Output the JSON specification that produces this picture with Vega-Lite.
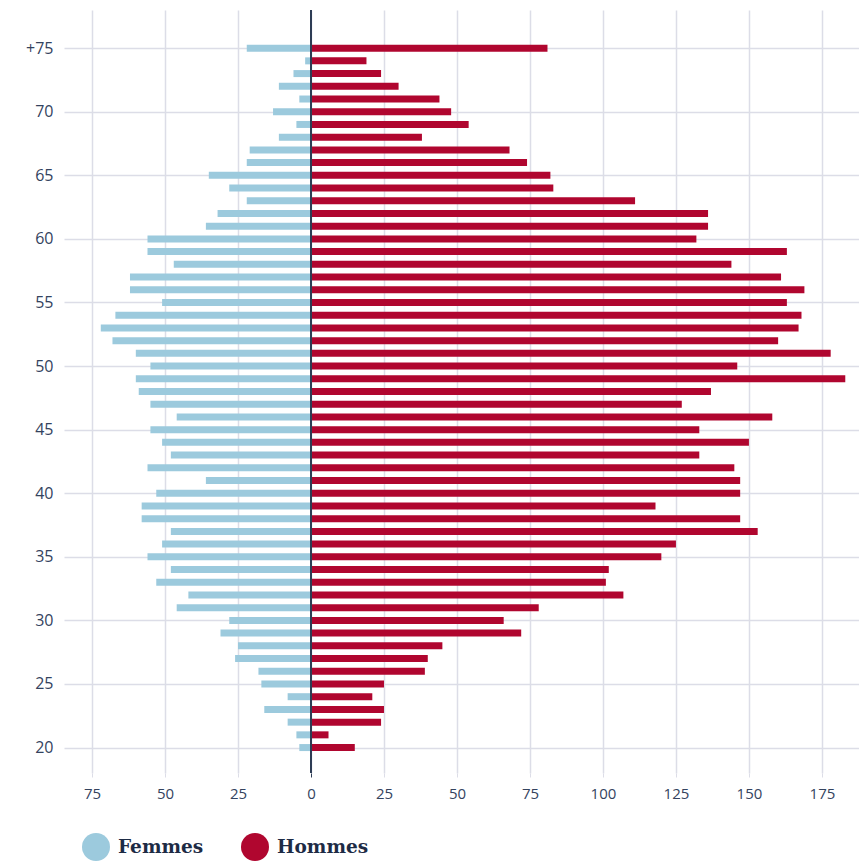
{
  "$schema": "https://vega.github.io/schema/vega-lite/v6.json",
  "width": 795,
  "height": 763,
  "autosize": {"type": "none"},
  "padding": {"left": 64, "top": 10, "right": 0, "bottom": 88},
  "background": "white",
  "config": {"view": {"stroke": null}},
  "data": {"values": [
    {"age":75,"sexe":"Femmes","value":-22},{"age":75,"sexe":"Hommes","value":81},
    {"age":74,"sexe":"Femmes","value":-2},{"age":74,"sexe":"Hommes","value":19},
    {"age":73,"sexe":"Femmes","value":-6},{"age":73,"sexe":"Hommes","value":24},
    {"age":72,"sexe":"Femmes","value":-11},{"age":72,"sexe":"Hommes","value":30},
    {"age":71,"sexe":"Femmes","value":-4},{"age":71,"sexe":"Hommes","value":44},
    {"age":70,"sexe":"Femmes","value":-13},{"age":70,"sexe":"Hommes","value":48},
    {"age":69,"sexe":"Femmes","value":-5},{"age":69,"sexe":"Hommes","value":54},
    {"age":68,"sexe":"Femmes","value":-11},{"age":68,"sexe":"Hommes","value":38},
    {"age":67,"sexe":"Femmes","value":-21},{"age":67,"sexe":"Hommes","value":68},
    {"age":66,"sexe":"Femmes","value":-22},{"age":66,"sexe":"Hommes","value":74},
    {"age":65,"sexe":"Femmes","value":-35},{"age":65,"sexe":"Hommes","value":82},
    {"age":64,"sexe":"Femmes","value":-28},{"age":64,"sexe":"Hommes","value":83},
    {"age":63,"sexe":"Femmes","value":-22},{"age":63,"sexe":"Hommes","value":111},
    {"age":62,"sexe":"Femmes","value":-32},{"age":62,"sexe":"Hommes","value":136},
    {"age":61,"sexe":"Femmes","value":-36},{"age":61,"sexe":"Hommes","value":136},
    {"age":60,"sexe":"Femmes","value":-56},{"age":60,"sexe":"Hommes","value":132},
    {"age":59,"sexe":"Femmes","value":-56},{"age":59,"sexe":"Hommes","value":163},
    {"age":58,"sexe":"Femmes","value":-47},{"age":58,"sexe":"Hommes","value":144},
    {"age":57,"sexe":"Femmes","value":-62},{"age":57,"sexe":"Hommes","value":161},
    {"age":56,"sexe":"Femmes","value":-62},{"age":56,"sexe":"Hommes","value":169},
    {"age":55,"sexe":"Femmes","value":-51},{"age":55,"sexe":"Hommes","value":163},
    {"age":54,"sexe":"Femmes","value":-67},{"age":54,"sexe":"Hommes","value":168},
    {"age":53,"sexe":"Femmes","value":-72},{"age":53,"sexe":"Hommes","value":167},
    {"age":52,"sexe":"Femmes","value":-68},{"age":52,"sexe":"Hommes","value":160},
    {"age":51,"sexe":"Femmes","value":-60},{"age":51,"sexe":"Hommes","value":178},
    {"age":50,"sexe":"Femmes","value":-55},{"age":50,"sexe":"Hommes","value":146},
    {"age":49,"sexe":"Femmes","value":-60},{"age":49,"sexe":"Hommes","value":183},
    {"age":48,"sexe":"Femmes","value":-59},{"age":48,"sexe":"Hommes","value":137},
    {"age":47,"sexe":"Femmes","value":-55},{"age":47,"sexe":"Hommes","value":127},
    {"age":46,"sexe":"Femmes","value":-46},{"age":46,"sexe":"Hommes","value":158},
    {"age":45,"sexe":"Femmes","value":-55},{"age":45,"sexe":"Hommes","value":133},
    {"age":44,"sexe":"Femmes","value":-51},{"age":44,"sexe":"Hommes","value":150},
    {"age":43,"sexe":"Femmes","value":-48},{"age":43,"sexe":"Hommes","value":133},
    {"age":42,"sexe":"Femmes","value":-56},{"age":42,"sexe":"Hommes","value":145},
    {"age":41,"sexe":"Femmes","value":-36},{"age":41,"sexe":"Hommes","value":147},
    {"age":40,"sexe":"Femmes","value":-53},{"age":40,"sexe":"Hommes","value":147},
    {"age":39,"sexe":"Femmes","value":-58},{"age":39,"sexe":"Hommes","value":118},
    {"age":38,"sexe":"Femmes","value":-58},{"age":38,"sexe":"Hommes","value":147},
    {"age":37,"sexe":"Femmes","value":-48},{"age":37,"sexe":"Hommes","value":153},
    {"age":36,"sexe":"Femmes","value":-51},{"age":36,"sexe":"Hommes","value":125},
    {"age":35,"sexe":"Femmes","value":-56},{"age":35,"sexe":"Hommes","value":120},
    {"age":34,"sexe":"Femmes","value":-48},{"age":34,"sexe":"Hommes","value":102},
    {"age":33,"sexe":"Femmes","value":-53},{"age":33,"sexe":"Hommes","value":101},
    {"age":32,"sexe":"Femmes","value":-42},{"age":32,"sexe":"Hommes","value":107},
    {"age":31,"sexe":"Femmes","value":-46},{"age":31,"sexe":"Hommes","value":78},
    {"age":30,"sexe":"Femmes","value":-28},{"age":30,"sexe":"Hommes","value":66},
    {"age":29,"sexe":"Femmes","value":-31},{"age":29,"sexe":"Hommes","value":72},
    {"age":28,"sexe":"Femmes","value":-25},{"age":28,"sexe":"Hommes","value":45},
    {"age":27,"sexe":"Femmes","value":-26},{"age":27,"sexe":"Hommes","value":40},
    {"age":26,"sexe":"Femmes","value":-18},{"age":26,"sexe":"Hommes","value":39},
    {"age":25,"sexe":"Femmes","value":-17},{"age":25,"sexe":"Hommes","value":25},
    {"age":24,"sexe":"Femmes","value":-8},{"age":24,"sexe":"Hommes","value":21},
    {"age":23,"sexe":"Femmes","value":-16},{"age":23,"sexe":"Hommes","value":25},
    {"age":22,"sexe":"Femmes","value":-8},{"age":22,"sexe":"Hommes","value":24},
    {"age":21,"sexe":"Femmes","value":-5},{"age":21,"sexe":"Hommes","value":6},
    {"age":20,"sexe":"Femmes","value":-4},{"age":20,"sexe":"Hommes","value":15}
  ]},
  "layer": [
    {
      "mark": {"type": "bar", "orient": "horizontal", "size": 7},
      "encoding": {
        "y": {
          "field": "age", "type": "quantitative",
          "scale": {"domain": [18, 78], "nice": false, "zero": false, "padding": 0},
          "axis": {
            "title": null,
            "values": [20, 25, 30, 35, 40, 45, 50, 55, 60, 65, 70, 75],
            "labelExpr": "datum.value == 75 ? '+75' : datum.label",
            "ticks": false, "domain": false,
            "labelPadding": 11,
            "labelFont": "Open Sans", "labelFontSize": 16, "labelColor": "#34435e",
            "grid": true, "gridColor": "#dcdde7", "gridWidth": 1.5
          }
        },
        "x": {
          "field": "value", "type": "quantitative", "stack": null,
          "scale": {"domain": [-84.6, 187.7], "nice": false},
          "axis": {
            "title": null,
            "values": [-75, -50, -25, 0, 25, 50, 75, 100, 125, 150, 175],
            "labelExpr": "abs(datum.value)",
            "domain": false,
            "tickSize": 4,
            "tickColor": {"condition": {"test": "datum.value === 0", "value": "#2e3d55"}, "value": "#dcdde7"},
            "labelPadding": 9,
            "labelFont": "Open Sans", "labelFontSize": 15, "labelColor": "#34435e",
            "grid": true, "gridColor": "#dcdde7", "gridWidth": 1.5
          }
        },
        "color": {
          "field": "sexe", "type": "nominal",
          "scale": {"domain": ["Femmes", "Hommes"], "range": ["#9ccadd", "#b0062f"]},
          "legend": {
            "title": null,
            "orient": "none", "legendX": 18, "legendY": 823,
            "direction": "horizontal",
            "symbolType": "circle", "symbolSize": 784, "symbolOpacity": 1, "symbolStrokeWidth": 0,
            "labelFont": "DejaVu Serif", "labelFontSize": 18.5, "labelFontWeight": "bold",
            "labelColor": "#1d2b45", "labelOffset": 8, "columnPadding": 37
          }
        }
      }
    },
    {
      "mark": {"type": "rule", "color": "#2e3d55", "strokeWidth": 1.5},
      "encoding": {"x": {"datum": 0}}
    }
  ]
}
